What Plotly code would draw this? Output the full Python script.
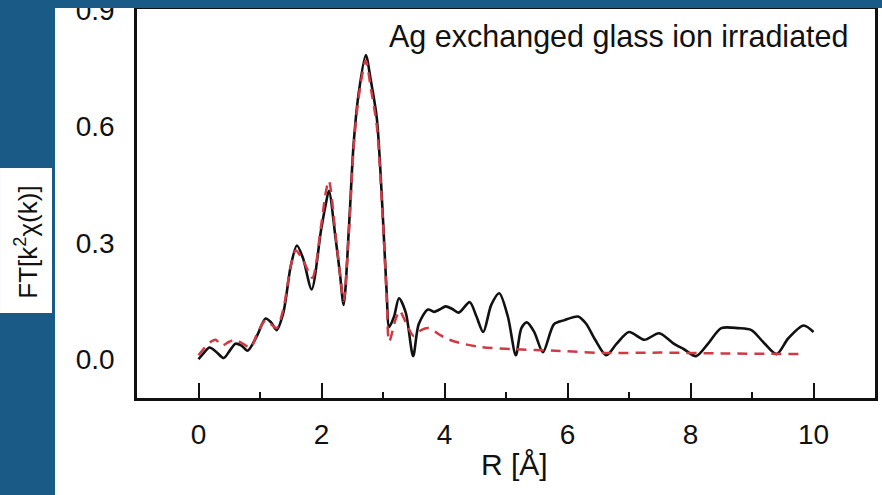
import plotly.graph_objects as go

# Experimental FT (black solid)
r_exp = [0.0, 0.08, 0.18, 0.28, 0.41, 0.5, 0.6, 0.7, 0.8, 0.95, 1.09, 1.18, 1.27, 1.38, 1.5, 1.6, 1.7, 1.84,
         1.99, 2.07, 2.12, 2.23, 2.3, 2.36, 2.45, 2.52, 2.6, 2.72, 2.8, 2.9, 3.0, 3.06, 3.1, 3.18, 3.26, 3.37,
         3.49, 3.58, 3.73, 3.83, 3.92, 4.02, 4.12, 4.23, 4.41, 4.52, 4.63, 4.76, 4.89, 5.03, 5.16, 5.25, 5.34,
         5.46, 5.6, 5.78, 5.94, 6.17, 6.3, 6.45, 6.63, 6.8, 7.0, 7.25, 7.49, 7.72, 7.9, 8.09, 8.29, 8.5, 8.78,
         8.99, 9.2, 9.4, 9.59, 9.84, 10.0]
ft_exp = [0.0, 0.015, 0.03, 0.02, 0.003, 0.02, 0.04, 0.035, 0.022, 0.06, 0.105, 0.095, 0.075, 0.12, 0.24, 0.293,
          0.26, 0.18, 0.33, 0.40, 0.434, 0.31, 0.22, 0.14, 0.35, 0.55, 0.68, 0.784, 0.72, 0.62, 0.36, 0.17, 0.083,
          0.11, 0.157, 0.12, 0.008, 0.09, 0.128, 0.122, 0.128, 0.136, 0.13, 0.12, 0.147, 0.11, 0.07, 0.14, 0.17,
          0.11, 0.01, 0.08, 0.095, 0.07, 0.018, 0.09, 0.1, 0.11, 0.092, 0.05, 0.01, 0.04, 0.07, 0.05, 0.067,
          0.041, 0.025, 0.008, 0.041, 0.08, 0.08, 0.075, 0.041, 0.013, 0.054, 0.087, 0.07]

# Fit (red dashed)
r_fit = [0.0, 0.1, 0.2, 0.28, 0.38, 0.5, 0.6, 0.72, 0.85, 0.95, 1.09, 1.18, 1.27, 1.38, 1.5, 1.58, 1.7, 1.85,
         1.99, 2.07, 2.12, 2.23, 2.3, 2.36, 2.45, 2.52, 2.6, 2.72, 2.8, 2.9, 3.0, 3.06, 3.1, 3.2, 3.27, 3.37,
         3.5, 3.62, 3.75, 3.9, 4.05, 4.3, 4.6, 5.1, 5.8, 6.6, 7.5, 8.5, 9.8]
ft_fit = [0.01, 0.03, 0.045, 0.05, 0.035, 0.045, 0.05, 0.04, 0.03, 0.065, 0.1, 0.09, 0.08, 0.13, 0.24, 0.28,
          0.255, 0.21, 0.34, 0.43, 0.46, 0.32, 0.22, 0.15, 0.34, 0.54, 0.67, 0.77, 0.70, 0.60, 0.35, 0.16, 0.045,
          0.10, 0.125, 0.095, 0.06, 0.075, 0.08, 0.065, 0.052, 0.04, 0.031, 0.026, 0.022, 0.016, 0.017, 0.015,
          0.013]

x_ticks = [0, 2, 4, 6, 8, 10]
y_ticks = [0.0, 0.3, 0.6, 0.9]
y_ticktext = ["0.0", "0.3", "0.6", "0.9"]

BLUE = "#195a87"
FONT = "Arial, Liberation Sans, sans-serif"

fig = go.Figure()
fig.add_trace(go.Scatter(x=r_exp, y=ft_exp, mode="lines", line=dict(color="#111111", width=2.6, shape="spline", smoothing=0.8),
                         showlegend=False))
fig.add_trace(go.Scatter(x=r_fit, y=ft_fit, mode="lines",
                         line=dict(color="#d03a45", width=2.5, dash="10px,7px", shape="spline", smoothing=0.8),
                         showlegend=False))

fig.update_layout(
    width=882, height=495,
    margin=dict(l=137, r=7, t=9, b=97, autoexpand=False),
    paper_bgcolor=BLUE, plot_bgcolor="white",
    font=dict(family=FONT, color="#111111", size=28),
    xaxis=dict(range=[-1, 11], tickvals=x_ticks, ticks="inside", ticklen=15, tickwidth=2, tickcolor="#111",
               minor=dict(tickvals=[1, 3, 5, 7, 9], ticks="inside", ticklen=6, tickwidth=2, tickcolor="#111"),
               showgrid=False, zeroline=False, showline=True, linewidth=2.5, linecolor="#111", mirror=True,
               ticklabelstandoff=10, tickfont=dict(size=28), automargin=False),
    yaxis=dict(range=[-0.1, 0.9025], tickvals=y_ticks, ticktext=y_ticktext, ticks="",
               showgrid=False, zeroline=False, showline=True, linewidth=2.5, linecolor="#111", mirror=True,
               ticklabelstandoff=14, tickfont=dict(size=28), ticklabeloverflow="allow", automargin=False),
    shapes=[
        dict(type="rect", xref="paper", yref="paper", x0=-0.1111, x1=1.05, y0=-0.3, y1=1.0026,
             fillcolor="white", line=dict(width=0), layer="below"),
        dict(type="rect", xref="paper", yref="paper", x0=-0.1856, x1=-0.1152, y0=0.2185, y1=0.591,
             fillcolor="white", line=dict(width=0), layer="below"),
        dict(type="rect", xref="paper", yref="paper", x0=-0.2, x1=1.05, y0=1.0026, y1=1.1,
             fillcolor=BLUE, line=dict(width=0), layer="above"),
    ],
    annotations=[
        dict(text="Ag exchanged glass ion irradiated", xref="paper", yref="paper", x=0.3388, y=0.93,
             xanchor="left", yanchor="middle", showarrow=False, font=dict(size=30.5, family=FONT, color="#111")),
        dict(text="R [Å]", xref="paper", yref="paper", x=0.512, y=-0.172, xanchor="center", yanchor="middle",
             showarrow=False, font=dict(size=30, family=FONT, color="#111")),
        dict(text="FT[k<sup>2</sup>χ(k)]", xref="paper", yref="paper", x=-0.150, y=0.40, textangle=-90,
             xanchor="center", yanchor="middle", showarrow=False, font=dict(size=26, family=FONT, color="#111")),
    ],
)

fig.write_html("out.html")
